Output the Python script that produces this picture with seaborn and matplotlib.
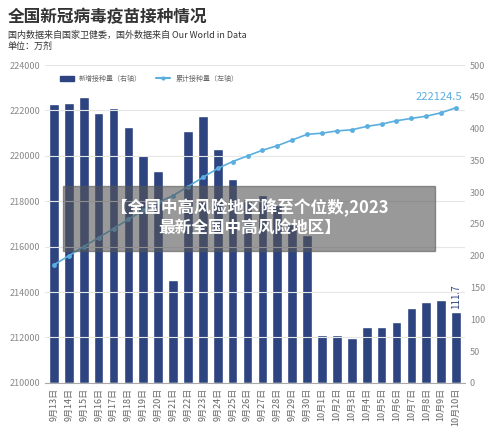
import matplotlib
matplotlib.use("Agg")
import matplotlib.pyplot as plt
import seaborn as sns
import pandas as pd

sns.set_style("white")
plt.rcParams['font.family'] = ['Noto Sans CJK SC', 'DejaVu Sans']

dates = ["9月13日","9月14日","9月15日","9月16日","9月17日","9月18日","9月19日","9月20日","9月21日","9月22日",
         "9月23日","9月24日","9月25日","9月26日","9月27日","9月28日","9月29日","9月30日","10月1日","10月2日",
         "10月3日","10月4日","10月5日","10月6日","10月7日","10月8日","10月9日","10月10日"]
daily = [439,441,450,425,432,402,359,334,162,396,420,368,321,290,295,280,250,232,75,75,71,88,88,95,118,127,130,111.7]
cumul = [215200,215600,216000,216400,216800,217200,217600,217950,218250,218650,219050,219450,219750,220000,220250,
         220450,220700,220950,221000,221100,221150,221300,221400,221550,221650,221750,221900,222124.5]

df = pd.DataFrame({"date": dates, "daily": daily, "cumul": cumul})

fig = plt.figure(figsize=(5, 4.37), dpi=100)
ax = fig.add_axes([0.09, 0.124, 0.84, 0.727])
ax2 = ax.twinx()
sns.barplot(data=df, x="date", y="daily", color="#2e4480", saturation=1, width=0.65, ax=ax2, zorder=2)
ax.set_zorder(3); ax.patch.set_visible(False)
sns.lineplot(data=df, x="date", y="cumul", color="#5aaee0", marker="o", markersize=3.5,
             markeredgewidth=0, linewidth=1.2, ax=ax, sort=False)
ax.set_ylim(210000, 224000)
ax2.set_ylim(0, 500)
ax.set_yticks(range(210000, 224001, 2000))
ax2.set_yticks(range(0, 501, 50))
for a in (ax, ax2):
    a.set_xlabel(""); a.set_ylabel("")
    for s in a.spines.values():
        s.set_visible(False)
    a.tick_params(axis='y', length=0, labelsize=6.5, labelcolor="#888888")
ax.spines['bottom'].set_visible(True); ax.spines['bottom'].set_color("#aaaaaa")
ax.grid(axis='y', color="#e6e6e6", linewidth=0.8)
ax.set_axisbelow(True)
ax.set_xlim(-0.6, len(dates) - 0.4)
ax.tick_params(axis='x', length=0, labelsize=6.5, labelcolor="#666666", rotation=90)
ax2.tick_params(axis='x', length=0)
ax.text(len(dates) - 0.6, 222124.5 + 250, "222124.5", color="#5aaee0", fontsize=8, ha="right", va="bottom")
ax2.text(len(dates) - 1, 111.7 + 4, "111.7", color="#2e4480", fontsize=7, rotation=90, ha="center", va="bottom")

from matplotlib.patches import Rectangle
from matplotlib.lines import Line2D
handles = [Rectangle((0, 0), 1, 1, color="#2e4480"),
           Line2D([0], [0], color="#5aaee0", marker="o", markersize=3, markeredgewidth=0)]
ax.legend(handles, ["新增接种量（右轴）", "累计接种量（左轴）"], loc="upper left", bbox_to_anchor=(0.02, 0.99),
          ncol=2, frameon=False, fontsize=5, labelcolor="#666666", handlelength=2)

fig.text(0.016, 0.95, "全国新冠病毒疫苗接种情况", fontsize=12, fontweight="bold", color="#333333")
fig.text(0.016, 0.913, "国内数据来自国家卫健委，国外数据来自 Our World in Data", fontsize=6.5, color="#333333")
fig.text(0.016, 0.887, "单位：万剂", fontsize=6.5, color="#333333")

fig.patches.append(Rectangle((0.126, 0.425), 0.744, 0.15, transform=fig.transFigure,
                             color="#555555", alpha=0.6, zorder=10))
fig.text(0.5, 0.50, "【全国中高风险地区降至个位数,2023\n最新全国中高风险地区】", ha="center", va="center",
         fontsize=12, fontweight="bold", color="white", zorder=11, linespacing=1.2)
fig.savefig("out.png", dpi=100)
